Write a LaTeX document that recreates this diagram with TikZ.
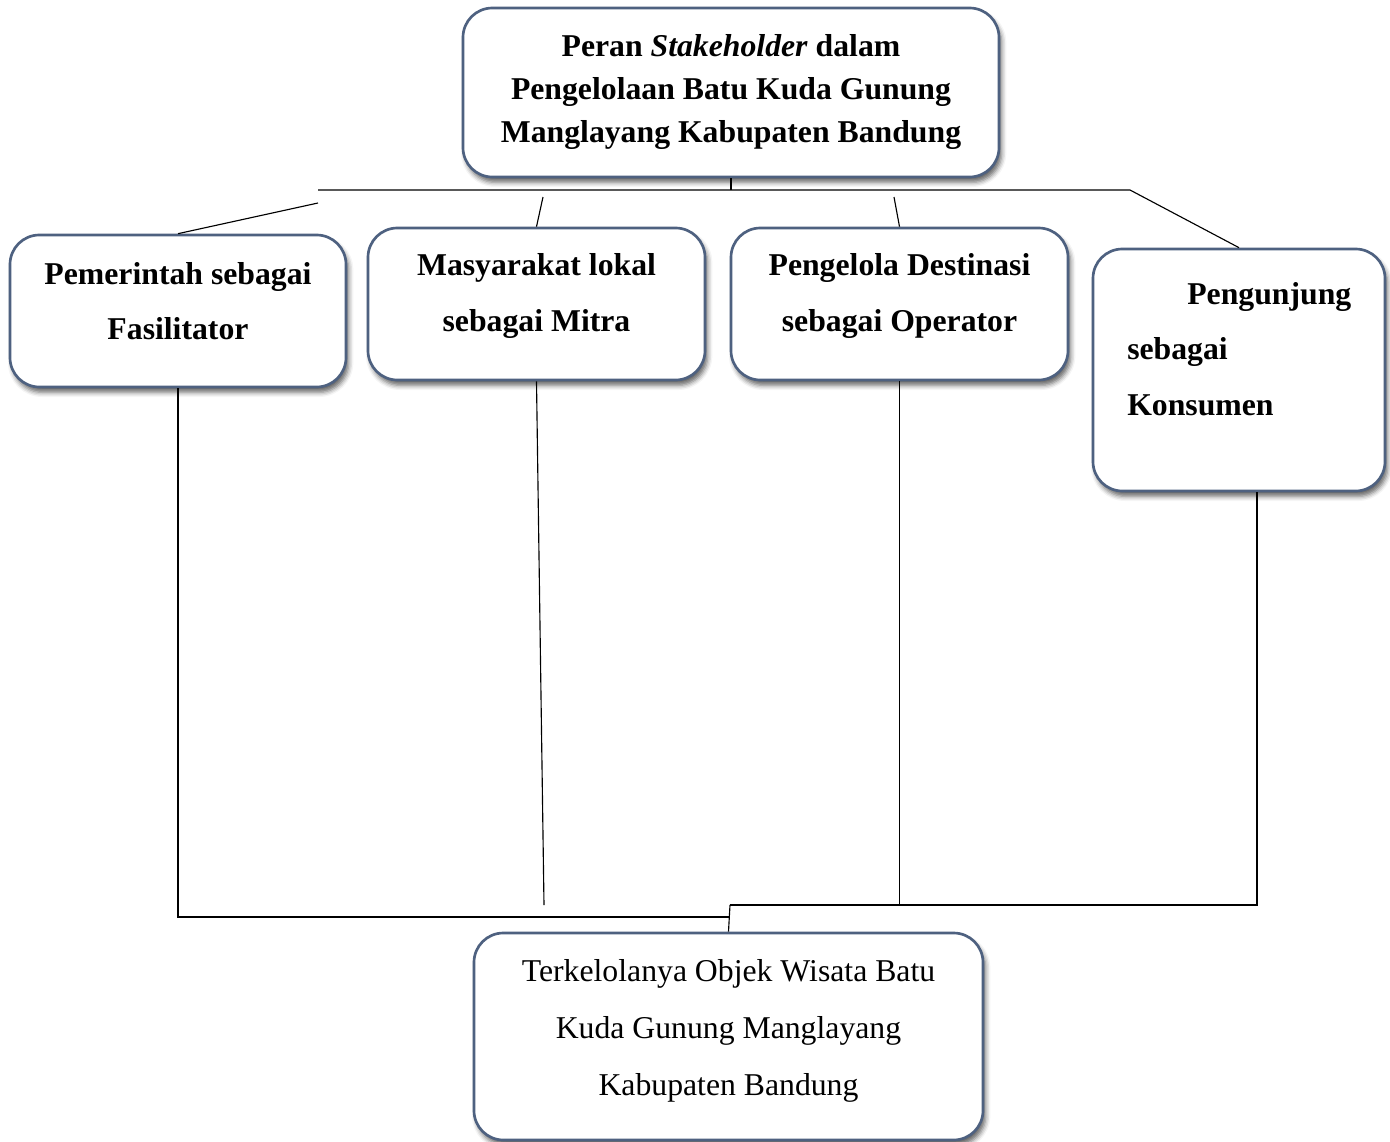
\documentclass[tikz,border=0pt]{standalone}
\usepackage{fontspec}
\setmainfont{Liberation Serif}
\usetikzlibrary{shadows.blur}
\definecolor{boxline}{RGB}{78,97,128}
\tikzset{
  box/.style={draw=boxline, line width=2pt, fill=white, rounded corners=22pt,
    inner sep=0pt,
    blur shadow={shadow xshift=2pt, shadow yshift=-4pt, shadow opacity=60, shadow blur radius=3.5pt}},
  lbl/.style={inner sep=0pt, font=\fontsize{23.8}{32}\selectfont\bfseries, align=center},
  conn/.style={line width=0.85pt, black}
}
\begin{document}
\begin{tikzpicture}[x=0.75pt, y=-0.75pt]
\useasboundingbox (0,0) rectangle (1390,1142);
% boxes
\node[box, minimum width=402pt, minimum height=126.75pt] (top) at (731,92.5) {};
\node[box, minimum width=252pt, minimum height=114pt] (k1) at (178,311) {};
\node[box, minimum width=252.75pt, minimum height=114pt] (k2) at (536.5,304) {};
\node[box, minimum width=252.75pt, minimum height=114pt] (k3) at (899.5,304) {};
\node[box, minimum width=219pt, minimum height=181.5pt] (k4) at (1239,370) {};
\node[box, minimum width=381.75pt, minimum height=155.25pt] (bot) at (728.5,1036.5) {};
% texts
\node[lbl, font=\fontsize{23.8}{32.25}\selectfont\bfseries] (ttop) at (731,92) {Peran \textit{Stakeholder} dalam\\Pengelolaan Batu Kuda Gunung\\Manglayang Kabupaten Bandung};
\node[lbl, font=\fontsize{23.8}{41.25}\selectfont\bfseries] (t1) at (178,301) {Pemerintah sebagai\\Fasilitator};
\node[lbl, font=\fontsize{23.8}{42}\selectfont\bfseries] (t2) at (536.5,296) {Masyarakat lokal\\sebagai Mitra};
\node[lbl, font=\fontsize{23.8}{42}\selectfont\bfseries] (t3) at (899.5,296) {Pengelola Destinasi\\sebagai Operator};
\node[lbl, font=\fontsize{23.8}{41.6}\selectfont\bfseries, align=left, anchor=west] (t4) at (1127,349) {\hspace*{45pt}Pengunjung\\sebagai\\Konsumen};
\node[lbl, font=\fontsize{23.8}{42.75}\selectfont, ] (tbot) at (728.5,1031) {Terkelolanya Objek Wisata Batu\\Kuda Gunung Manglayang\\Kabupaten Bandung};
% connector coordinates
\coordinate (hL) at (318,190);
\coordinate (hR) at (1130,190);
\coordinate (a1) at (318,203);
\coordinate (a2) at (543,197);
\coordinate (a3) at (894,197);
\coordinate (j1) at (730,917);
\coordinate (j2) at (730,905);
\coordinate (b2) at (544,905);
\coordinate (c4) at (1257,905);
% top connectors
\draw[conn] (top.south) -- (top.south |- hL);
\draw[conn] (hL) -- (hR) -- (k4.north);
\draw[conn] (k1.north) -- (a1);
\draw[conn] (k2.north) -- (a2);
\draw[conn] (k3.north) -- (a3);
% bottom connectors
\draw[conn] (k1.south) -- (k1.south |- j1) -- (j1);
\draw[conn] (k2.south) -- (b2);
\draw[conn] (k3.south) -- (k3.south |- j2);
\draw[conn] (k4.south -| c4) -- (c4) -- (j2);
\draw[conn] (j2) -- (bot.north);
\end{tikzpicture}
\end{document}
